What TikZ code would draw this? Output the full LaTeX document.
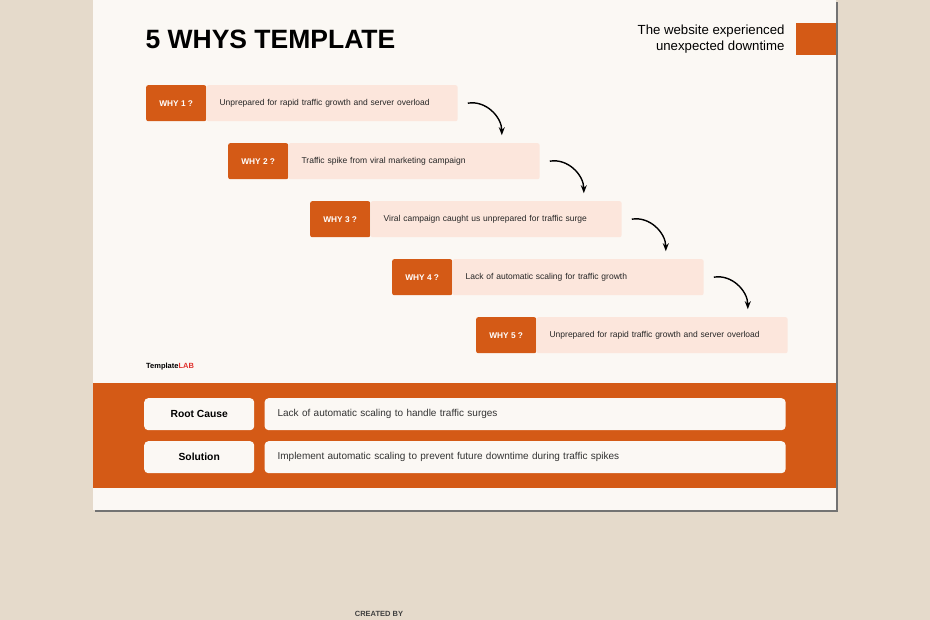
\documentclass[tikz,border=0pt]{standalone}
\usepackage{fontspec}
\setmainfont{Liberation Sans}
\usetikzlibrary{positioning, calc, arrows.meta}
\definecolor{bgbeige}{HTML}{E5DACB}
\definecolor{paper}{HTML}{FBF8F4}
\definecolor{rust}{HTML}{D45A16}
\definecolor{peach}{HTML}{FCE6DC}
\definecolor{labred}{HTML}{E0302C}
\tikzstyle{WhyTag} = [fill=rust, text=white, font=\fontsize{8.3}{9}\selectfont\bfseries,
minimum width=60pt, minimum height=36pt, inner sep=0pt, rounded corners=2pt]
\tikzstyle{WhyText} = [fill=peach, text=black!85, font=\fontsize{8.5}{9}\selectfont,
minimum width=251pt, minimum height=36pt, inner sep=0pt, text width=225pt, rounded corners=2pt]
\tikzstyle{Arrow} = [line width=1.4pt, black, -{Stealth[length=8pt, width=6pt]}]
\tikzstyle{CauseTag} = [fill=paper, font=\fontsize{10.3}{11}\selectfont\bfseries,
minimum width=110pt, minimum height=32pt, inner sep=0pt, rounded corners=4pt]
\tikzstyle{CauseText} = [fill=paper, font=\fontsize{10}{11}\selectfont, text=black!80,
minimum width=521pt, minimum height=32pt, inner sep=0pt, text width=495pt, rounded corners=4pt]
\begin{document}
\begin{tikzpicture}[x=1pt, y=-1pt]
    \useasboundingbox (0,0) rectangle (930,620);
    \fill[bgbeige] (0,0) rectangle (930,620);
    \fill[black!55] (95,2) rectangle (838,512);
    \fill[paper] (93,0) rectangle (836,510);
    \fill[rust] (93,383) rectangle (836,488);
    \fill[rust] (796,23) rectangle (836,55);
    \node (title) [anchor=west, font=\fontsize{26.5}{30}\selectfont\bfseries] at (142,39) {5 WHYS TEMPLATE};
    \node (problem) [anchor=east, align=right, font=\fontsize{13.2}{15.5}\selectfont] at (788,39) {The website experienced\\unexpected downtime};
    % the five whys
    \node (w1) [WhyTag, anchor=north west] at (146,85) {WHY 1 ?};
    \node (t1) [WhyText, right=0pt of w1.east, anchor=west] {Unprepared for rapid traffic growth and server overload};
    \node (w2) [WhyTag, anchor=north west] at (228,143) {WHY 2 ?};
    \node (t2) [WhyText, right=0pt of w2.east, anchor=west] {Traffic spike from viral marketing campaign};
    \node (w3) [WhyTag, anchor=north west] at (310,201) {WHY 3 ?};
    \node (t3) [WhyText, right=0pt of w3.east, anchor=west] {Viral campaign caught us unprepared for traffic surge};
    \node (w4) [WhyTag, anchor=north west] at (392,259) {WHY 4 ?};
    \node (t4) [WhyText, right=0pt of w4.east, anchor=west] {Lack of automatic scaling for traffic growth};
    \node (w5) [WhyTag, anchor=north west] at (476,317) {WHY 5 ?};
    \node (t5) [WhyText, right=0pt of w5.east, anchor=west] {Unprepared for rapid traffic growth and server overload};
    \coordinate [right=10pt of t1.east] (a1);
    \coordinate [right=10pt of t2.east] (a2);
    \coordinate [right=10pt of t3.east] (a3);
    \coordinate [right=10pt of t4.east] (a4);
    \coordinate (b1) at ($(a1)+(34,32)$);
    \coordinate (b2) at ($(a2)+(34,32)$);
    \coordinate (b3) at ($(a3)+(34,32)$);
    \coordinate (b4) at ($(a4)+(34,32)$);
    \draw[Arrow] (a1) to [out=10, in=90] (b1);
    \draw[Arrow] (a2) to [out=10, in=90] (b2);
    \draw[Arrow] (a3) to [out=10, in=90] (b3);
    \draw[Arrow] (a4) to [out=10, in=90] (b4);
    \node (logo) [anchor=west, inner sep=0pt, font=\fontsize{7.5}{8}\selectfont\bfseries] at (146,367) {Template\textcolor{labred}{LAB}};
    % root cause and solution
    \node (rc) [CauseTag, anchor=north west] at (144,398) {Root Cause};
    \node (rct) [CauseText, right=10pt of rc] {Lack of automatic scaling to handle traffic surges};
    \node (sol) [CauseTag, anchor=north west] at (144,441) {Solution};
    \node (solt) [CauseText, right=10pt of sol] {Implement automatic scaling to prevent future downtime during traffic spikes};
    \node (credit) [font=\fontsize{7.5}{8}\selectfont\bfseries, text=black!75, inner sep=0pt] at (379,614) {CREATED BY};
\end{tikzpicture}
\end{document}
